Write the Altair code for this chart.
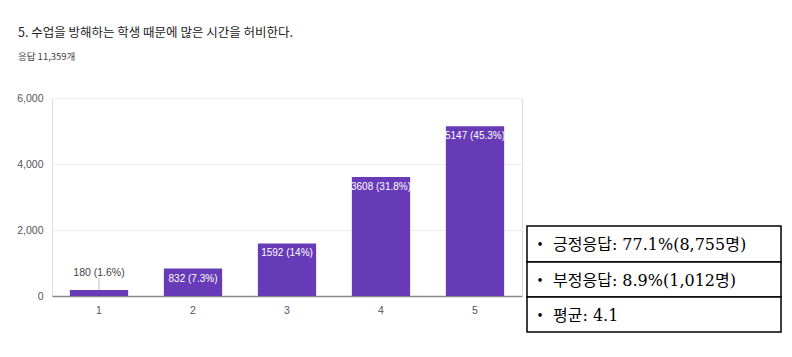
import altair as alt
import pandas as pd

categories = ["1", "2", "3", "4", "5"]
counts = [180, 832, 1592, 3608, 5147]
labels = ["180 (1.6%)", "832 (7.3%)", "1592 (14%)", "3608 (31.8%)", "5147 (45.3%)"]
inside = [False, True, True, True, True]
title_text = "5. 수업을 방해하는 학생 때문에 많은 시간을 허비한다."
subtitle_text = "응답 11,359개"
summary = ["긍정응답: 77.1%(8,755명)", "부정응답: 8.9%(1,012명)", "평균: 4.1"]

df = pd.DataFrame({"cat": categories, "count": counts, "label": labels, "inside": inside})

W, H = 470, 198
NARROW = "Liberation Sans, Arial, sans-serif"
KR = "Noto Sans CJK KR"

x = alt.X("cat:N", sort=categories, title=None,
          scale=alt.Scale(paddingInner=0.38, paddingOuter=0.19),
          axis=alt.Axis(labelAngle=0, ticks=False, domain=True, domainColor="#8a8a8a",
                        domainWidth=1.5, labelColor="#555555", labelFont=NARROW,
                        labelFontSize=10.5, labelPadding=9, grid=False))
y = alt.Y("count:Q", title=None,
          scale=alt.Scale(domain=[0, 6000], nice=False),
          axis=alt.Axis(values=[0, 2000, 4000, 6000], format=",d", ticks=False, domain=False,
                        gridColor="#eeeeee", labelColor="#555555", labelFont=NARROW,
                        labelFontSize=10.5, labelPadding=9))

base = alt.Chart(df)
bars = base.mark_bar(color="#673AB7").encode(x=x, y=y)
in_text = base.transform_filter("datum.inside").mark_text(
    baseline="top", dy=5, color="white", font=NARROW, fontSize=10
).encode(x=alt.X("cat:N", sort=categories), y="count:Q", text="label:N")
out_text = base.transform_filter("!datum.inside").mark_text(
    baseline="middle", dy=-17, color="#444444", font=NARROW, fontSize=10.5
).encode(x=alt.X("cat:N", sort=categories), y="count:Q", text="label:N")
leader = base.transform_filter("!datum.inside").mark_rule(color="#bbbbbb", strokeWidth=1).encode(
    x=alt.X("cat:N", sort=categories), y="count:Q", y2=alt.value(180))

one = pd.DataFrame({"a": [0]})
title = alt.Chart(one).mark_text(align="left", baseline="middle", font=KR, fontSize=12.5,
                                 color="#222222").encode(
    x=alt.value(-34), y=alt.value(-65), text=alt.value(title_text))
subtitle = alt.Chart(one).mark_text(align="left", baseline="middle", font=KR, fontSize=9.5,
                                    color="#444444").encode(
    x=alt.value(-34), y=alt.value(-41), text=alt.value(subtitle_text))

box_left, box_right = 475, 729
row_tops = [128, 164, 199]
row_bottoms = [164, 199, 234]
layers = [bars, leader, in_text, out_text, title, subtitle]
BOXFONT = "DejaVu Serif, Noto Sans CJK KR, serif"
for i, s in enumerate(summary):
    d = pd.DataFrame({"t": [s]})
    rect = alt.Chart(d).mark_rect(fill="white", stroke="black", strokeWidth=1.5).encode(
        x=alt.value(box_left), x2=alt.value(box_right),
        y=alt.value(row_tops[i]), y2=alt.value(row_bottoms[i]))
    bullet = alt.Chart(d).mark_text(align="center", baseline="middle", font=BOXFONT,
                                    fontSize=12, color="black").encode(
        x=alt.value(488), y=alt.value((row_tops[i] + row_bottoms[i]) / 2 + 1), text=alt.value("•"))
    txt = alt.Chart(d).mark_text(align="left", baseline="middle", font=BOXFONT,
                                 fontSize=16, color="black").encode(
        x=alt.value(501), y=alt.value((row_tops[i] + row_bottoms[i]) / 2 + 1), text="t:N")
    layers += [rect, bullet, txt]

chart = alt.layer(*layers).properties(
    width=W, height=H,
    padding={"left": 52, "top": 98, "right": 270, "bottom": 61},
    autosize=alt.AutoSizeParams(type="none"),
).configure_view(stroke=None).configure(background="white")

chart.save("out.html", embed_options={"renderer": "svg", "actions": False})
